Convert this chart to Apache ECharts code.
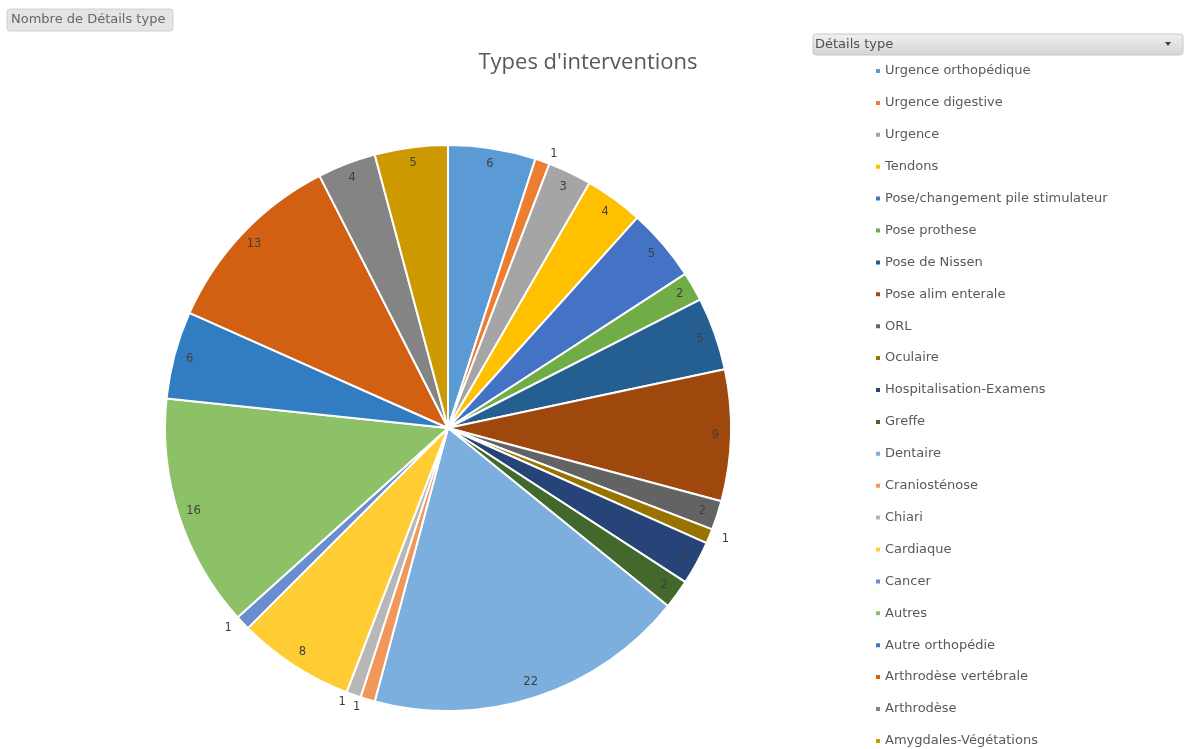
<!DOCTYPE html>
<html>
<head>
<meta charset="utf-8">
<script src="https://cdn.jsdelivr.net/npm/echarts@6/dist/echarts.min.js"></script>
<style>
html,body{margin:0;padding:0;background:#fff;}
#c{width:1190px;height:749px;}
</style>
</head>
<body>
<div id="c"></div>
<script>
const categories = [
  "Urgence orthopédique","Urgence digestive","Urgence","Tendons",
  "Pose/changement pile stimulateur","Pose prothese","Pose de Nissen",
  "Pose alim enterale","ORL","Oculaire","Hospitalisation-Examens","Greffe",
  "Dentaire","Craniosténose","Chiari","Cardiaque","Cancer","Autres",
  "Autre orthopédie","Arthrodèse vertébrale","Arthrodèse","Amygdales-Végétations"
];
const values = [6,1,3,4,5,2,5,9,2,1,3,2,22,1,1,8,1,16,6,13,4,5];
const colors = [
  "#5B9BD5","#ED7D31","#A5A5A5","#FFC000","#4472C4","#70AD47",
  "#255E91","#9E480E","#636363","#997300","#264478","#43682B",
  "#7CAFDD","#F1975A","#B7B7B7","#FFCD33","#698ED0","#8CC168",
  "#327DC2","#D26012","#848484","#CC9A00"
];
const titleText = "Types d'interventions";
const fieldButton = "Nombre de Détails type";
const legendButton = "Détails type";

const FONT = "DejaVu Sans";
const TFONT = "Open Sans";
const chart = echarts.init(document.getElementById('c'), null, {renderer:'canvas'});

const mainData = categories.map((n,i)=>({name:n, value:values[i], itemStyle:{color:colors[i]}}));
const labelData = categories.map((n,i)=>{
  const d = {name:n, value:values[i]};
  if (values[i] === 1) {
    d.label = {position:'outside', color:'#404040'};
  }
  return d;
});

chart.setOption({
  animation:false,
  color: colors,
  title:{
    text:titleText, left:583, top:47, textAlign:'center',
    textStyle:{fontFamily:TFONT, fontSize:22, fontWeight:'normal', color:'#595959'}
  },
  legend:{
    orient:'vertical', left:874, top:64, height:700, padding:0,
    icon:'rect', itemWidth:6, itemHeight:6, itemGap:17.9,
    data: categories,
    textStyle:{fontFamily:FONT, fontSize:13, color:'#595959', lineHeight:14, padding:[0,0,0,-1]},
    selectedMode:false
  },
  graphic:[
    {type:'rect', shape:{x:7,y:9,width:166,height:22,r:3},
     style:{fill:'#E4E4E4', stroke:'#D0D0D0', lineWidth:1}},
    {type:'text', x:11, y:20, style:{text:fieldButton, fontFamily:FONT, fontSize:13, fill:'#666666', verticalAlign:'middle'}},
    {type:'rect', shape:{x:813,y:34,width:370,height:21,r:3},
     style:{fill:new echarts.graphic.LinearGradient(0,0,0,1,[{offset:0,color:'#F0F0F0'},{offset:1,color:'#D4D4D4'}]), stroke:'#C8C8C8', lineWidth:1}},
    {type:'text', x:815, y:45, style:{text:legendButton, fontFamily:FONT, fontSize:13, fill:'#505050', verticalAlign:'middle'}},
    {type:'polygon', shape:{points:[[1165,42],[1171,42],[1168,46]]}, style:{fill:'#404040'}}
  ],
  series:[
    {
      type:'pie', name:'main', center:[448,428], radius:[0,283],
      startAngle:90, clockwise:true, avoidLabelOverlap:false,
      label:{show:false}, labelLine:{show:false},
      itemStyle:{borderColor:'#fff', borderWidth:2},
      emphasis:{disabled:true},
      data: mainData
    },
    {
      type:'pie', name:'labels', center:[448,428], radius:[246,283],
      startAngle:90, clockwise:true, avoidLabelOverlap:false, silent:true,
      legendHoverLink:false,
      itemStyle:{color:'rgba(0,0,0,0)'},
      label:{show:true, position:'inside', formatter:'{c}', fontFamily:FONT, fontSize:11.5, color:'#404040'},
      labelLine:{show:false, length:8, length2:0},
      emphasis:{disabled:true},
      data: labelData
    }
  ]
});
</script>
</body>
</html>
